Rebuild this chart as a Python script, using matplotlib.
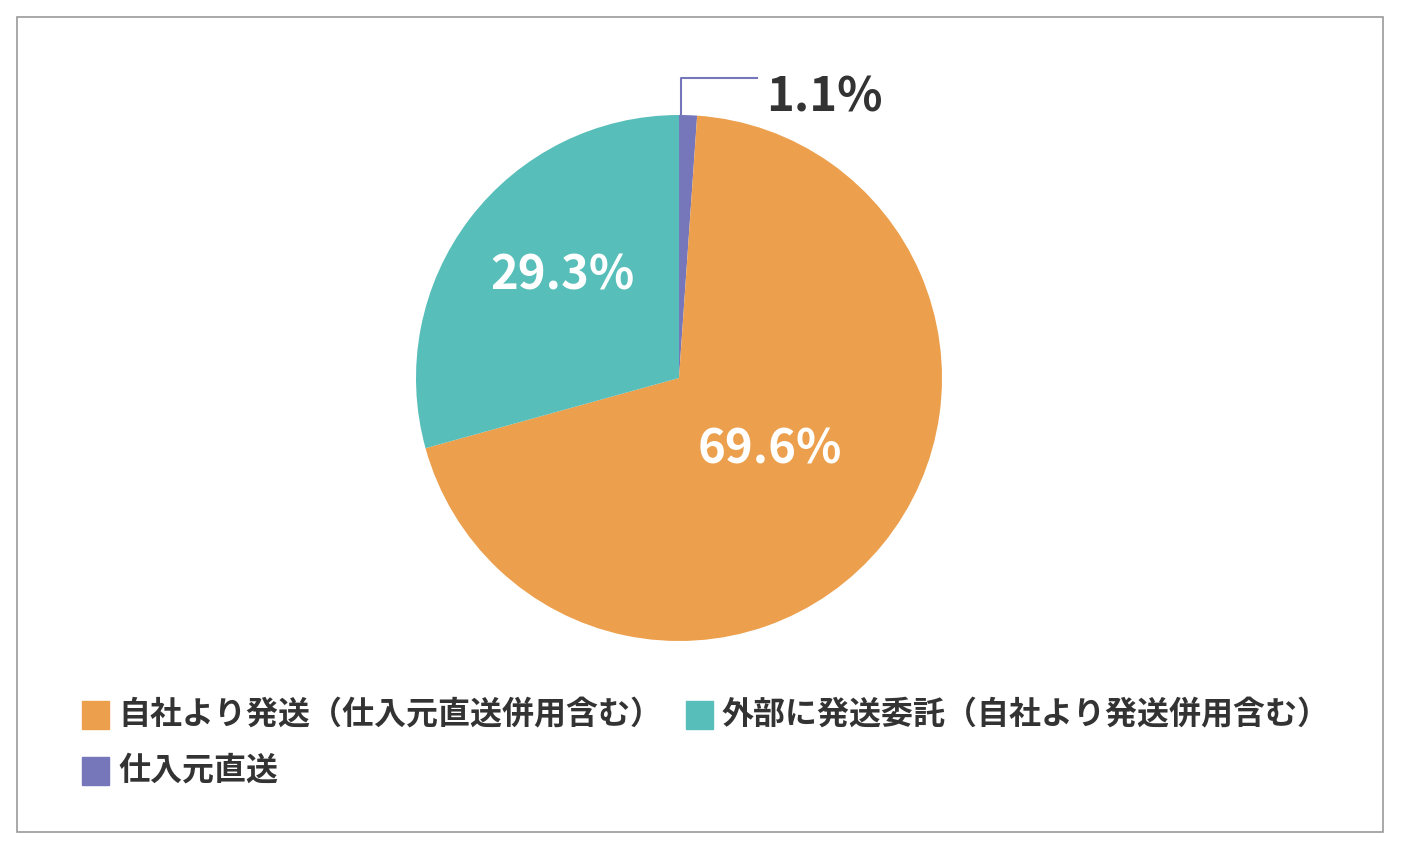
import matplotlib.pyplot as plt
from matplotlib.patches import Rectangle

plt.rcParams['font.family'] = ['Noto Sans CJK JP', 'DejaVu Sans']

labels = ['仕入元直送', '自社より発送（仕入元直送併用含む）', '外部に発送委託（自社より発送併用含む）']
values = [1.1, 69.6, 29.3]
colors = ['#7677BA', '#EC9F4C', '#58BEB9']
label_text = ['1.1%', '69.6%', '29.3%']

W, H = 1402, 849
fig = plt.figure(figsize=(W / 100, H / 100), dpi=100)

def px(x, y):
    return x / W, 1 - y / H

# border
fig.patches.append(Rectangle(px(17, 832), 1366 / W, 815 / H, transform=fig.transFigure,
                             fill=False, edgecolor='#999999', lw=1.2))

cx, cy, r = 679, 378, 263
ax = fig.add_axes([(cx - r) / W, (H - cy - r) / H, 2 * r / W, 2 * r / H])
wedges, _ = ax.pie(values, colors=colors, startangle=90, counterclock=False, radius=1,
                   wedgeprops=dict(linewidth=0))
ax.set_xlim(-1, 1)
ax.set_ylim(-1, 1)
ax.set_aspect('equal')

# inside labels
fig.text(*px(770, 450), label_text[1], color='white', fontsize=34, fontweight='bold',
         ha='center', va='center')
fig.text(*px(562, 276), label_text[2], color='white', fontsize=34, fontweight='bold',
         ha='center', va='center')
# leader for small slice
fig.lines.append(plt.Line2D([681 / W, 681 / W, 757 / W], [1 - 116 / H, 1 - 78 / H, 1 - 78 / H],
                            transform=fig.transFigure, color='#7677BA', lw=1.5))
fig.text(*px(824, 97), label_text[0], color='#333333', fontsize=34, fontweight='bold',
         ha='center', va='center')

# legend
legend_pos = [(82, 771), (82, 715), (686, 715)]
for (lx, ly), lab, col in zip(legend_pos, labels, colors):
    fig.patches.append(Rectangle(px(lx, ly + 14), 27 / W, 28 / H, transform=fig.transFigure,
                                 color=col))
    fig.text(*px(lx + 36, ly), lab, fontsize=23, fontweight='bold', color='#333333',
             ha='left', va='center')

fig.savefig('out.png', dpi=100)
